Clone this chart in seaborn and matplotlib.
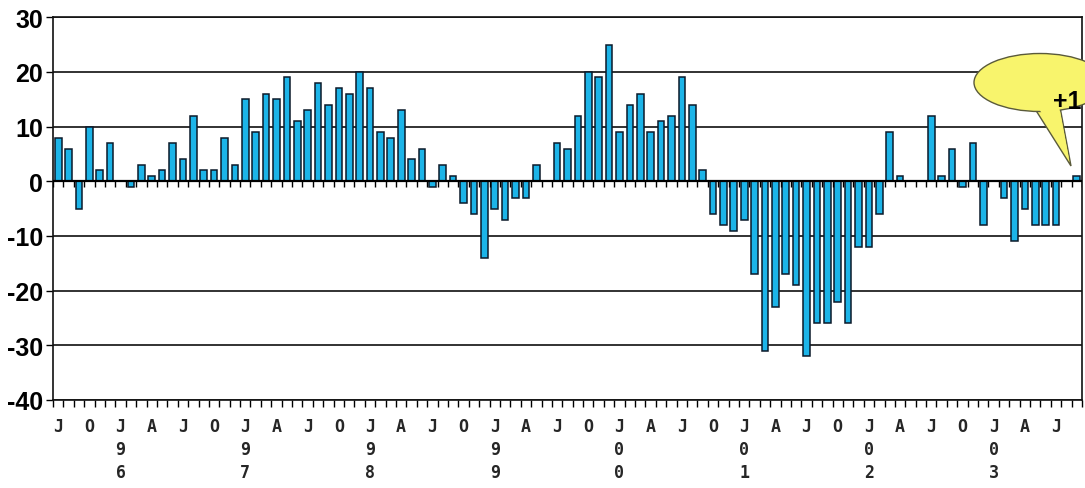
import numpy as np
import pandas as pd
import matplotlib
matplotlib.use("Agg")
import matplotlib.pyplot as plt
import matplotlib.transforms as mtransforms
from matplotlib.patches import Ellipse, Polygon
import seaborn as sns

# ---------------- data ----------------
start_month = "1995-07"
values = [8, 6, -5, 10, 2, 7, 0, -1, 3, 1, 2, 7, 4, 12, 2, 2, 8, 3, 15, 9,
          16, 15, 19, 11, 13, 18, 14, 17, 16, 20, 17, 9, 8, 13, 4, 6, -1, 3, 1, -4,
          -6, -14, -5, -7, -3, -3, 3, 0, 7, 6, 12, 20, 19, 25, 9, 14, 16, 9, 11, 12,
          19, 14, 2, -6, -8, -9, -7, -17, -31, -23, -17, -19, -32, -26, -26, -22, -26, -12, -12, -6,
          9, 1, 0, 0, 12, 1, 6, -1, 7, -8, 0, -3, -11, -5, -8, -8, -8, 0, 1]
y_ticks = [30, 20, 10, 0, -10, -20, -30, -40]
bubble_text = "+1"

months = pd.period_range(start_month, periods=len(values), freq="M")
df = pd.DataFrame({"month": [str(m) for m in months], "value": values})
month_initials = [m.strftime("%b")[0] for m in months]

# ---------------- figure ----------------
W, H = 1085, 489
sns.set_style("white")
plt.rcParams["font.family"] = ["Liberation Sans", "DejaVu Sans"]
fig = plt.figure(figsize=(W / 100, H / 100), dpi=100)
fig.patch.set_facecolor("white")
ax = fig.add_axes([53 / W, 1 - 401 / H, (1082 - 53) / W, (401 - 18.3) / H])

sns.barplot(data=df, x="month", y="value", color="#1CB4E8", saturation=1,
            edgecolor="#0b1a2a", linewidth=1.1, width=0.64, ax=ax, zorder=3)

n = len(values)
ax.set_xlim(-0.5, n - 0.5)
ax.set_ylim(-40, 30)
ax.set_xlabel("")
ax.set_ylabel("")

xfont = ["DejaVu Sans Mono", "Liberation Mono"]

# grid
ax.set_yticks(y_ticks)
ax.set_yticklabels([str(v) for v in y_ticks], fontsize=18, fontweight="bold",
                   family=["Liberation Sans", "DejaVu Sans"])
ax.yaxis.grid(True, color="#222222", linewidth=1.3)
ax.set_axisbelow(True)
ax.tick_params(axis="y", direction="out", length=5, width=1, pad=2, left=True, colors="black")

# x ticks: labels every 3 months, minor ticks at month boundaries
pos = np.arange(0, n, 3)
ax.set_xticks(pos)
ax.set_xticklabels([month_initials[i] for i in pos], fontsize=12, fontweight="bold",
                   family=xfont)
ax.tick_params(axis="x", which="major", length=0, pad=12)
ax.set_xticks(np.arange(n + 1) - 0.5, minor=True)
ax.tick_params(axis="x", which="minor", direction="out", length=5, width=1, bottom=True, colors="black")

# year labels under each January
trans = mtransforms.blended_transform_factory(ax.transData, fig.transFigure)
for i, m in enumerate(months):
    if m.month == 1:
        yy = f"{m.year % 100:02d}"
        ax.text(i, 1 - 450 / H, yy[0], transform=trans, ha="center", va="center",
                fontsize=12, fontweight="bold", family=xfont)
        ax.text(i, 1 - 473 / H, yy[1], transform=trans, ha="center", va="center",
                fontsize=12, fontweight="bold", family=xfont)

# zero axis with tick marks
ax.axhline(0, color="black", linewidth=1.6, zorder=4)
ax.vlines(np.arange(n + 1) - 0.5, -0.95, 0, color="black", linewidth=1, zorder=4)

for side in ["left", "right", "top", "bottom"]:
    ax.spines[side].set_visible(True)
    ax.spines[side].set_color("#111111")
    ax.spines[side].set_linewidth(1.2)

# speech bubble (pixel coordinates, origin top-left)
pix = mtransforms.Affine2D().scale(1 / W, -1 / H).translate(0, 1) + fig.transFigure
bubble_fc = "#F8F46C"
bubble_ec = "#5a5a3a"
tail = [(1030, 102), (1060, 108), (1071, 167)]
fig.patches.append(Polygon(tail, closed=True, transform=pix, facecolor=bubble_fc,
                           edgecolor=bubble_ec, linewidth=1.0, zorder=10))
fig.patches.append(Ellipse((1040, 83.5), 132, 58, transform=pix, facecolor=bubble_fc,
                           edgecolor=bubble_ec, linewidth=1.0, zorder=11))
fig.patches.append(Polygon([(1032, 98), (1058, 102), (1069, 160)], closed=True, transform=pix,
                           facecolor=bubble_fc, edgecolor="none", zorder=12))
fig.text(1053 / W, 1 - 102 / H, bubble_text, fontsize=18, fontweight="bold", color="black",
         ha="left", va="center", zorder=13)

fig.savefig("out.png", dpi=100, facecolor="white")
